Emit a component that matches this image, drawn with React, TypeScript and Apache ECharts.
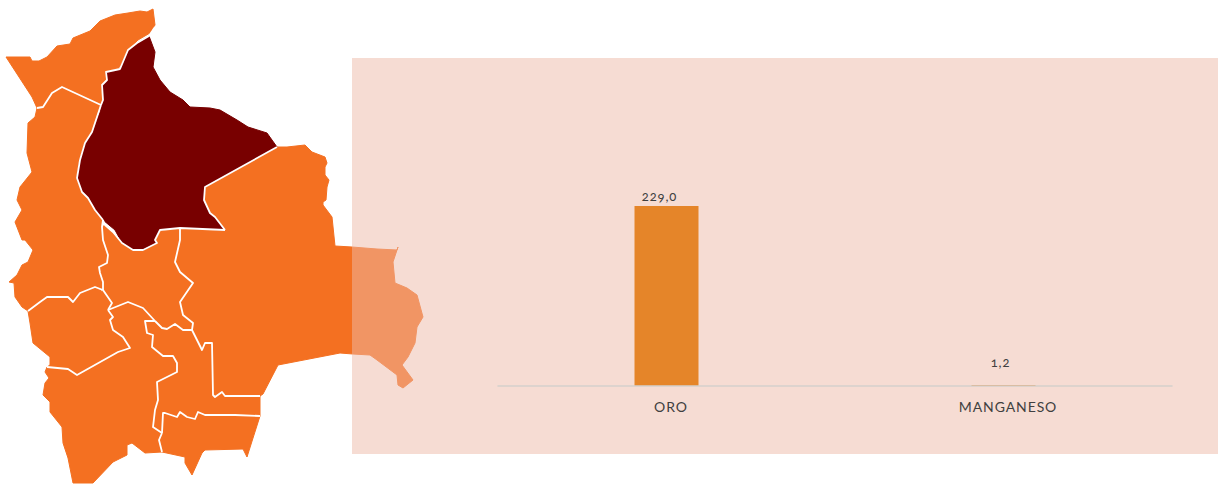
import React, { useEffect, useRef } from "react";
import * as echarts from "echarts";

const categories = ["ORO", "MANGANESO"];
const values = [229.0, 1.2];
const labelShifts = [[-7, 0], [-3, -13]];

const ORANGE = "#F47021";
const DARK = "#780000";

const pando = [[6,57],[30,57],[32,61],[39,61],[47,57],[57,46],[70,44],[73,38],[90,31],[100,21],[115,15],[128,13],[140,11],[147,12],[153,9],[155,25],[150,33],[138,40],[130,48],[123,62],[118,69],[107,72],[107,80],[102,85],[103,100],[101,105],[62,87],[52,93],[43,107],[37,108],[32,97]];
const beni = [[149,36],[155,52],[153,67],[160,80],[170,92],[183,100],[190,107],[210,108],[220,110],[237,120],[248,127],[267,133],[277,147],[205,187],[204,200],[210,213],[215,217],[225,230],[180,228],[160,230],[155,240],[157,243],[143,250],[133,250],[122,243],[115,230],[103,220],[95,210],[88,198],[82,192],[77,178],[80,160],[85,143],[92,132],[100,112],[103,100],[102,85],[107,80],[106,72],[120,69],[128,50],[137,43]];
const laPaz = [[37,108],[43,107],[52,93],[62,87],[101,105],[92,132],[85,143],[80,160],[77,178],[82,192],[88,198],[95,210],[103,220],[102,227],[103,240],[108,255],[107,263],[99,267],[100,273],[103,282],[103,290],[95,287],[80,293],[73,302],[68,297],[47,297],[40,302],[28,311],[22,307],[15,297],[14,283],[9,282],[17,275],[22,265],[28,262],[33,250],[25,240],[22,240],[15,222],[22,210],[17,200],[20,187],[32,172],[27,153],[28,123],[35,117]];
const oruro = [[28,311],[40,302],[47,297],[68,297],[73,302],[80,293],[95,287],[103,292],[112,303],[108,310],[113,317],[110,320],[113,330],[123,337],[130,348],[118,352],[77,375],[68,369],[47,367],[50,365],[50,357],[33,343],[30,323]];
const cochabamba = [[102,227],[105,225],[113,232],[122,243],[133,250],[143,250],[157,243],[155,240],[160,230],[180,228],[180,240],[175,262],[180,272],[193,283],[180,302],[183,315],[193,323],[192,330],[183,330],[175,324],[167,329],[162,328],[155,321],[143,308],[128,302],[113,308],[108,310],[112,303],[103,292],[103,282],[100,273],[99,267],[107,263],[108,255],[103,240]];
const potosi = [[47,367],[68,369],[77,375],[118,352],[130,348],[123,337],[113,330],[110,320],[113,317],[108,310],[113,308],[128,302],[143,308],[155,321],[145,321],[147,333],[153,335],[152,347],[163,356],[173,356],[177,363],[177,372],[157,382],[158,400],[155,410],[153,427],[162,433],[159,440],[162,452],[145,453],[132,443],[127,445],[127,455],[113,462],[93,483],[73,483],[68,458],[63,443],[62,427],[50,412],[50,402],[43,395],[45,383],[49,378],[45,372]];
const chuquisaca = [[145,321],[155,321],[162,328],[167,329],[175,324],[183,330],[192,330],[202,350],[205,343],[212,343],[213,395],[215,397],[222,392],[225,396],[260,396],[260,416],[235,415],[205,415],[198,412],[195,419],[187,417],[180,412],[177,417],[165,413],[163,413],[162,433],[153,427],[155,410],[158,400],[157,382],[177,372],[177,363],[173,356],[163,356],[152,347],[153,335],[147,333]];
const tarija = [[163,413],[165,413],[177,417],[180,412],[187,417],[195,419],[198,412],[205,415],[235,415],[260,416],[247,457],[243,449],[205,450],[202,453],[192,475],[185,463],[185,457],[162,452],[159,440],[162,433]];
const santaCruz = [[277,147],[287,147],[305,145],[312,152],[325,157],[327,163],[325,167],[325,175],[329,180],[327,187],[326,200],[323,202],[323,205],[332,217],[335,246],[352,247],[377,249],[397,250],[398,247],[393,262],[395,283],[407,288],[417,295],[423,317],[417,327],[415,343],[408,357],[402,365],[413,380],[403,388],[398,385],[397,375],[377,360],[370,355],[353,354],[340,353],[278,365],[263,394],[260,396],[225,396],[222,392],[215,397],[213,395],[212,343],[205,343],[202,350],[192,330],[193,323],[183,315],[180,302],[193,283],[180,272],[175,262],[180,240],[180,228],[225,230],[215,217],[210,213],[204,200],[205,187]];

const orangeRegions = [pando, laPaz, oruro, cochabamba, potosi, chuquisaca, tarija, santaCruz];

const borders = [
  [[37,108],[43,107],[52,93],[62,87],[101,105]],
  [[155,27],[149,36],[137,43],[128,50],[120,69],[106,72],[107,80],[102,85],[103,100],[101,105]],
  [[101,105],[92,132],[85,143],[80,160],[77,178],[82,192],[88,198],[95,210],[103,220]],
  [[103,220],[105,225],[113,232],[122,243],[133,250],[143,250],[157,243],[155,240],[160,230],[180,228],[225,230]],
  [[225,230],[215,217],[210,213],[204,200],[205,187],[277,147]],
  [[103,220],[102,227],[103,240],[108,255],[107,263],[99,267],[100,273],[103,282],[103,290]],
  [[103,290],[95,287],[80,293],[73,302],[68,297],[47,297],[40,302],[28,311]],
  [[103,290],[112,303],[108,310]],
  [[108,310],[113,317],[110,320],[113,330],[123,337],[130,348],[118,352],[77,375],[68,369],[47,367]],
  [[108,310],[113,308],[128,302],[143,308],[155,321]],
  [[155,321],[162,328],[167,329],[175,324],[183,330],[192,330]],
  [[180,228],[180,240],[175,262],[180,272],[193,283],[180,302],[183,315],[193,323],[192,330]],
  [[192,330],[202,350],[205,343],[212,343],[213,395],[215,397],[222,392],[225,396],[260,396]],
  [[155,321],[145,321],[147,333],[153,335],[152,347],[163,356],[173,356],[177,363],[177,372],[157,382],[158,400],[155,410],[153,427],[162,433]],
  [[162,433],[163,413],[165,413],[177,417],[180,412],[187,417],[195,419],[198,412],[205,415],[235,415],[260,416]],
  [[162,433],[159,440],[162,452]],
];

function region(points: number[][], fill: string) {
  return {
    type: "polygon",
    z: 0,
    shape: { points },
    style: { fill, stroke: fill, lineWidth: 1, lineJoin: "round" },
    silent: true,
  };
}

function border(points: number[][]) {
  return {
    type: "polyline",
    z: 0,
    shape: { points },
    style: { fill: "none", stroke: "#FFFFFF", lineWidth: 1.8, lineJoin: "round" },
    silent: true,
  };
}

export default function App() {
  const ref = useRef<HTMLDivElement>(null);
  useEffect(() => {
    document.body.style.margin = "0";
    const chart = echarts.init(ref.current!, undefined, { renderer: "svg" });
    chart.setOption({
      animation: false,
      backgroundColor: "#FFFFFF",
      graphic: [
        ...orangeRegions.map((r) => region(r, ORANGE)),
        region(beni, DARK),
        ...borders.map(border),
        {
          type: "rect",
          z: 1,
          shape: { x: 352, y: 58, width: 866, height: 396 },
          style: { fill: "rgba(237,185,167,0.5)" },
          silent: true,
        },
      ],
      grid: { left: 498, right: 46, top: 111, bottom: 98 },
      xAxis: {
        type: "category",
        data: categories,
        z: 6,
        axisTick: { show: false },
        axisLine: { lineStyle: { color: "#D5D0CC", width: 1.5 } },
        axisLabel: {
          color: "#404040",
          fontFamily: "Lato",
          fontSize: 14,
          margin: 13,
          padding: [0, 0, 0, 9],
        },
      },
      yAxis: { type: "value", min: 0, max: 350, show: false, splitLine: { show: false } },
      series: [
        {
          type: "bar",
          z: 5,
          data: values.map((value, i) => ({
            value,
            label: { offset: labelShifts[i] },
          })),
          barWidth: 64,
          itemStyle: { color: "#E58529" },
          label: {
            show: true,
            position: "top",
            distance: 4,
            color: "#404040",
            fontFamily: "Lato",
            fontSize: 13,
            formatter: (p: any) => p.value.toFixed(1).replace(".", ","),
          },
        },
      ],
    });
    return () => chart.dispose();
  }, []);
  return (
    <div
      ref={ref}
      style={{ width: 1218, height: 484, letterSpacing: "0.9px", fontFeatureSettings: '"onum"' }}
    />
  );
}
